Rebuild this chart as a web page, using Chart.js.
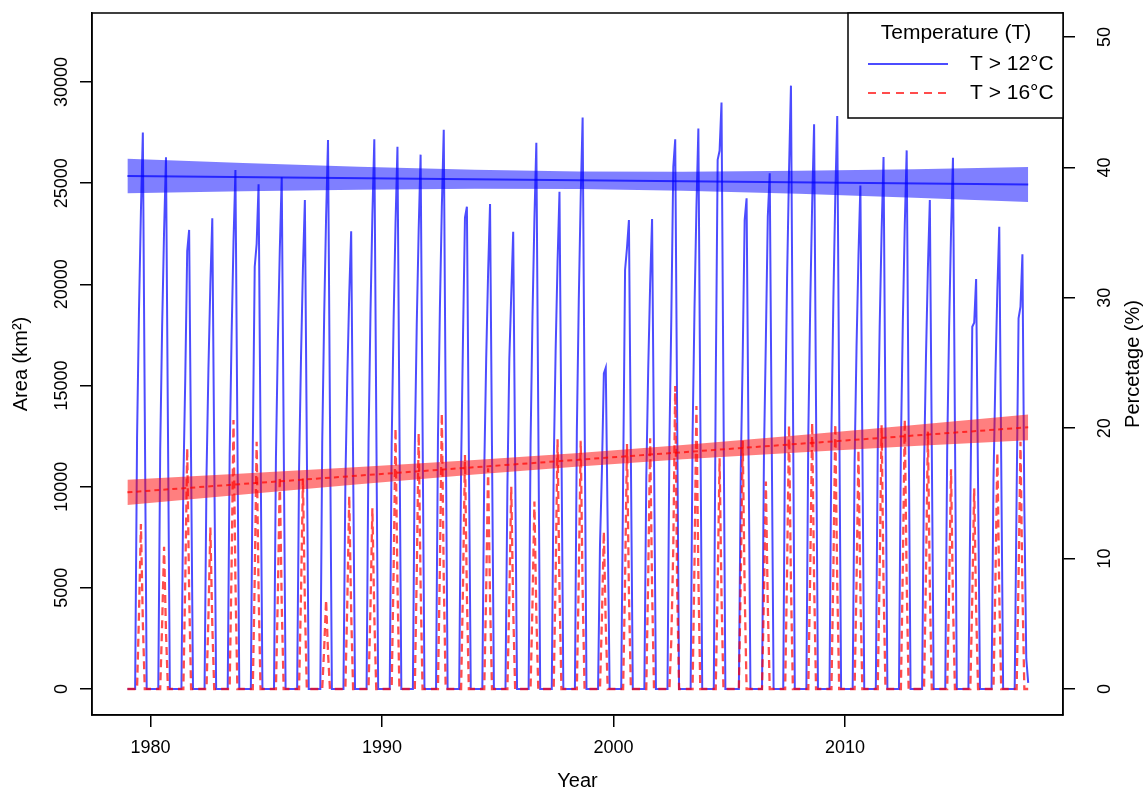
<!DOCTYPE html>
<html><head><meta charset="utf-8">
<script src="https://cdn.jsdelivr.net/npm/chart.js@4.4.0/dist/chart.umd.min.js"></script>
<style>html,body{margin:0;padding:0;background:#fff;}canvas{display:block;}</style>
</head><body>
<canvas id="c" width="1143" height="790"></canvas>
<script>
// ---------- DATA ----------
const years = [1979,1980,1981,1982,1983,1984,1985,1986,1987,1988,1989,1990,1991,1992,1993,1994,1995,1996,1997,1998,1999,2000,2001,2002,2003,2004,2005,2006,2007,2008,2009,2010,2011,2012,2013,2014,2015,2016,2017];
// monthly area (km2) with T > 12 C, Jan..Dec for each year
const area12 = [
[0,0,0,0,0,12400,18700,23600,27500,13700,0,0],
[0,0,0,0,0,11800,17900,22600,26280,13100,0,0],
[0,0,0,0,0,10200,15400,21650,22690,11300,0,0],
[0,0,0,0,0,10500,15800,20000,23260,11600,0,0],
[0,0,0,0,0,11500,17400,22100,25650,12800,0,0],
[0,0,0,0,0,12000,20870,22000,24940,12500,0,0],
[0,0,0,0,0,11400,17200,21700,25290,12600,0,0],
[0,0,0,0,0,10900,16400,20800,24170,12100,0,0],
[0,0,0,0,0,12200,18400,23300,27130,13600,0,0],
[0,0,0,0,0,10200,15400,19500,22620,11300,0,0],
[0,0,0,0,0,12200,18500,23400,27170,13600,0,0],
[0,0,0,0,0,12100,18200,23000,26800,13400,0,0],
[0,0,0,0,0,11900,18000,22700,26410,13200,0,0],
[0,0,0,0,0,12400,18800,23800,27640,13800,0,0],
[0,0,0,0,0,11000,17500,23300,23840,11900,0,0],
[0,0,0,0,0,10800,16300,20600,23970,12000,0,0],
[0,0,0,0,0,10000,16320,19500,22600,11300,0,0],
[0,0,0,0,0,12100,18400,23200,27000,13500,0,0],
[0,0,0,0,0,11000,16700,21100,24580,12300,0,0],
[0,0,0,0,0,12700,19200,24300,28240,14100,0,0],
[0,0,0,0,0,7100,10800,15600,15880,7900,0,0],
[0,0,0,0,0,10400,20710,21800,23180,11600,0,0],
[0,0,0,0,0,10400,15800,20000,23230,11600,0,0],
[0,0,0,0,0,12200,18500,25800,27170,13600,0,0],
[0,0,0,0,0,12500,18800,23800,27700,13800,0,0],
[0,0,0,0,0,15000,26150,26600,28990,14500,0,0],
[0,0,0,0,0,0,10900,16500,23180,24250,12100,0],
[0,0,0,0,0,0,11500,17300,23350,25490,12700,0],
[0,0,0,0,0,13400,20300,25600,29820,14900,0,0],
[0,0,0,0,0,12600,19000,24000,27910,14000,0,0],
[0,0,0,0,0,12700,19300,24400,28320,14200,0,0],
[0,0,0,0,0,11200,16900,21400,24880,12400,0,0],
[0,0,0,0,0,11800,17900,22600,26290,13100,0,0],
[0,0,0,0,0,12000,18100,22900,26620,13300,0,0],
[0,0,0,0,0,10900,16400,20800,24170,12100,0,0],
[0,0,0,0,0,11800,17900,22600,26260,13100,0,0],
[0,0,0,0,0,9000,17900,18100,20260,10100,0,0],
[0,0,0,0,0,10300,15500,19700,22850,11400,0,0],
[0,0,0,0,0,9600,18320,18900,21490,9000,1500,300]
];
// monthly area (km2) with T > 16 C
const area16 = [
[0,0,0,0,0,0,3700,8155,3300,0,0,0],
[0,0,0,0,0,0,3200,7035,2800,0,0,0],
[0,0,0,0,0,0,5400,11895,4800,0,0,0],
[0,0,0,0,0,0,3600,7975,3200,0,0,0],
[0,0,0,0,0,0,6000,13295,5300,0,0,0],
[0,0,0,0,0,0,5500,12225,4900,0,0,0],
[0,0,0,0,0,0,4700,10500,4200,0,0,0],
[0,0,0,0,0,0,4700,10400,4200,0,0,0],
[0,0,0,0,0,0,2000,4400,1800,0,0,0],
[0,0,0,0,0,0,4300,9540,3800,0,0,0],
[0,0,0,0,0,0,4000,8930,3600,0,0,0],
[0,0,0,0,0,0,5800,12885,5200,0,0,0],
[0,0,0,0,0,0,5700,12640,5100,0,0,0],
[0,0,0,0,0,0,6100,13625,5500,0,0,0],
[0,0,0,0,0,0,5200,11565,4600,0,0,0],
[0,0,0,0,0,0,4900,10910,4400,0,0,0],
[0,0,0,0,0,0,4500,10000,4000,0,0,0],
[0,0,0,0,0,0,4200,9260,3700,0,0,0],
[0,0,0,0,0,0,5600,12340,4900,0,0,0],
[0,0,0,0,0,0,5500,12270,4900,0,0,0],
[0,0,0,0,0,0,3500,7775,3100,0,0,0],
[0,0,0,0,0,0,5400,12110,4800,0,0,0],
[0,0,0,0,0,0,5600,12390,5000,0,0,0],
[0,0,0,0,0,0,2500,7000,14975,5000,0,0],
[0,0,0,0,0,0,6300,13990,5600,0,0,0],
[0,0,0,0,0,0,5100,11400,4600,0,0,0],
[0,0,0,0,0,0,5500,12270,4900,0,0,0],
[0,0,0,0,0,0,4600,10250,4100,0,0,0],
[0,0,0,0,0,0,5900,13050,5200,0,0,0],
[0,0,0,0,0,0,5900,13160,5300,0,0,0],
[0,0,0,0,0,0,5900,13100,5200,0,0,0],
[0,0,0,0,0,0,5300,11810,4700,0,0,0],
[0,0,0,0,0,0,5900,13050,5200,0,0,0],
[0,0,0,0,0,0,6000,13330,5300,0,0,0],
[0,0,0,0,0,0,5700,12720,5100,0,0,0],
[0,0,0,0,0,0,4900,10860,4300,0,0,0],
[0,0,0,0,0,0,4500,9920,4000,0,0,0],
[0,0,0,0,0,0,5300,11680,4700,0,0,0],
[0,0,0,0,0,0,5500,12225,4900,0,0,0]
];
// linear trends and confidence bands
const trendYears = [1979, 2017.917];
const trend12 = [25354, 24934];
const trend16 = [9722, 12934];
const bandYears = [1979, 1984, 1989, 1994, 1998.5, 2003, 2008, 2013, 2017.917];
const band12Upper = [26210, 26000, 25810, 25660, 25580, 25560, 25610, 25690, 25800];
const band12Lower = [24500, 24600, 24680, 24725, 24710, 24630, 24475, 24285, 24070];
const band16Upper = [10340, 10655, 10970, 11315, 11660, 12055, 12540, 13050, 13570];
const band16Lower = [9100, 9615, 10125, 10605, 11000, 11350, 11690, 12005, 12290];
// axes
const xTicks = [1980, 1990, 2000, 2010];
const areaTicks = [0, 5000, 10000, 15000, 20000, 25000, 30000];
const pctTicks = [0, 10, 20, 30, 40, 50];
const legendTitle = 'Temperature (T)';
const seriesNames = ['T > 12°C', 'T > 16°C'];

// ---------- BUILD ----------
const monthly = arr => { const p = []; years.forEach((yr, i) => arr[i].forEach((v, m) => p.push({x: yr + m / 12, y: v}))); return p; };
const pairs = (xs, ys) => xs.map((x, i) => ({x, y: ys[i]}));

const BLUE = 'rgba(0,0,255,0.7)', RED = 'rgba(255,0,0,0.7)';
const FONT = '"Liberation Sans", Arial, Helvetica, sans-serif';

const datasets = [
  {data: pairs(trendYears, trend12), borderColor: BLUE, borderWidth: 2, order: 0},
  {data: pairs(trendYears, trend16), borderColor: RED, borderWidth: 2, borderDash: [5, 4], order: 0},
  {data: pairs(bandYears, band12Lower), borderWidth: 0, borderColor: 'rgba(0,0,0,0)', order: 1},
  {data: pairs(bandYears, band12Upper), borderWidth: 0, borderColor: 'rgba(0,0,0,0)', fill: 2, backgroundColor: 'rgba(0,0,255,0.5)', order: 1},
  {data: pairs(bandYears, band16Lower), borderWidth: 0, borderColor: 'rgba(0,0,0,0)', order: 1},
  {data: pairs(bandYears, band16Upper), borderWidth: 0, borderColor: 'rgba(0,0,0,0)', fill: 4, backgroundColor: 'rgba(255,0,0,0.5)', order: 1},
  {data: monthly(area16), borderColor: RED, borderWidth: 2.3, borderDash: [8, 5], order: 2},
  {data: monthly(area12), borderColor: BLUE, borderWidth: 2, order: 3}
];

const rPlugin = {
  id: 'rstyle',
  afterDraw(chart) {
    const {ctx, chartArea: a, scales: {x, y, y2}} = chart;
    ctx.save();
    ctx.strokeStyle = '#000'; ctx.lineWidth = 1.5;
    ctx.strokeRect(a.left, a.top, a.right - a.left, a.bottom - a.top);
    ctx.fillStyle = '#000';
    ctx.font = '18px ' + FONT;
    ctx.textAlign = 'center'; ctx.textBaseline = 'middle';
    const rot = (t, cx, cy) => { ctx.save(); ctx.translate(cx, cy); ctx.rotate(-Math.PI / 2); ctx.fillText(t, 0, 0); ctx.restore(); };
    xTicks.forEach(v => ctx.fillText(String(v), x.getPixelForValue(v), 748));
    areaTicks.forEach(v => rot(String(v), 62, y.getPixelForValue(v)));
    pctTicks.forEach(v => rot(String(v), 1105, y2.getPixelForValue(v)));
    ctx.font = '20px ' + FONT;
    ctx.fillText('Year', (a.left + a.right) / 2, 781);
    rot('Area (km²)', 21, (a.top + a.bottom) / 2);
    rot('Percetage (%)', 1133, (a.top + a.bottom) / 2);
    // legend
    const L = 848, T = a.top, R = a.right, B = 118;
    ctx.fillStyle = '#fff'; ctx.fillRect(L, T, R - L, B - T);
    ctx.strokeRect(L, T, R - L, B - T);
    ctx.fillStyle = '#000';
    ctx.font = '21px ' + FONT;
    ctx.fillText(legendTitle, 956, 33);
    ctx.textAlign = 'left';
    ctx.fillText(seriesNames[0], 970, 64);
    ctx.fillText(seriesNames[1], 970, 93);
    ctx.lineWidth = 2;
    ctx.strokeStyle = BLUE; ctx.beginPath(); ctx.moveTo(868, 64); ctx.lineTo(948, 64); ctx.stroke();
    ctx.strokeStyle = RED; ctx.setLineDash([8, 6]); ctx.beginPath(); ctx.moveTo(868, 93); ctx.lineTo(948, 93); ctx.stroke();
    ctx.restore();
  }
};

const axisCommon = {
  grid: {drawOnChartArea: false, drawTicks: true, tickLength: 12, color: '#000', lineWidth: 1.5},
  border: {display: true, color: '#000', width: 1.5},
  ticks: {display: false}
};

new Chart(document.getElementById('c'), {
  type: 'line',
  data: {datasets},
  options: {
    responsive: false, animation: false, devicePixelRatio: 1,
    layout: {padding: {top: 13, left: 0, right: 0, bottom: 0}},
    elements: {point: {radius: 0, hoverRadius: 0}, line: {tension: 0}},
    plugins: {legend: {display: false}, tooltip: {enabled: false}},
    events: [],
    scales: {
      x: Object.assign({}, axisCommon, {type: 'linear', position: 'bottom', min: 1977.47, max: 2019.42,
        afterBuildTicks: s => { s.ticks = xTicks.map(v => ({value: v})); },
        afterFit: s => { s.height = 75; }}),
      y: Object.assign({}, axisCommon, {type: 'linear', position: 'left', min: -1285, max: 33410,
        afterBuildTicks: s => { s.ticks = areaTicks.map(v => ({value: v})); },
        afterFit: s => { s.width = 92; }}),
      y2: Object.assign({}, axisCommon, {type: 'linear', position: 'right', display: true, min: -1.994, max: 51.84,
        afterBuildTicks: s => { s.ticks = pctTicks.map(v => ({value: v})); },
        afterFit: s => { s.width = 80; }})
    }
  },
  plugins: [rPlugin]
});
</script>
</body></html>
